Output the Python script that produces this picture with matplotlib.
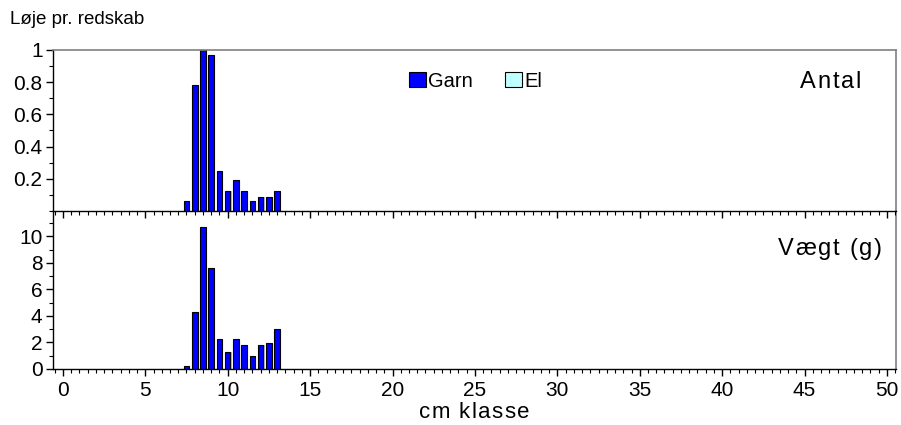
import matplotlib
matplotlib.use("Agg")
import matplotlib.pyplot as plt
from matplotlib.ticker import MultipleLocator, FixedLocator
from matplotlib.patches import Patch
from matplotlib.font_manager import FontProperties, findfont, get_font
from matplotlib.transforms import offset_copy

plt.rcParams['font.family'] = ['Liberation Sans', 'DejaVu Sans']

# Length classes (cm) and catch per gear
classes = [7.5, 8.0, 8.5, 9.0, 9.5, 10.0, 10.5, 11.0, 11.5, 12.0, 12.5, 13.0]
antal_garn = [0.06, 0.78, 1.00, 0.97, 0.25, 0.125, 0.19, 0.125, 0.06, 0.09, 0.09, 0.125]
vaegt_garn = [0.26, 4.26, 10.69, 7.58, 2.27, 1.28, 2.27, 1.79, 0.97, 1.79, 1.96, 2.98]

title_text = "Løje pr. redskab"
xlabel_text = "cm klasse"
series_names = ["Garn", "El"]
series_colors = ["#0000FF", "#C0FFFF"]
panel_labels = ["Antal", "Vægt (g)"]

fig = plt.figure(figsize=(9.01, 4.25), dpi=100)
W, H = 901, 425


def spaced_text(x, y, s, size, track_px, ha="left"):
    """Draw a string on the figure (pixel coords, baseline at y) with extra
    letter spacing between characters."""
    fp = FontProperties(family="Liberation Sans", size=size)
    font = get_font(findfont(fp))
    font.set_size(size, 72)
    track = track_px * 72.0 / fig.dpi
    advs = [font.load_char(ord(ch)).linearHoriAdvance / 65536.0 for ch in s]
    total = sum(advs) + track * (len(s) - 1)
    pos = {"left": 0.0, "center": -total / 2.0, "right": -total}[ha]
    base = fig.transFigure
    for ch, adv in zip(s, advs):
        if ch != " ":
            tr = offset_copy(base, fig=fig, x=pos, y=0, units="points")
            fig.text(x / W, 1 - y / H, ch, transform=tr, ha="left",
                     va="baseline", fontproperties=fp)
        pos += adv + track


ax1 = fig.add_axes([0.0588, 0.5035, 0.9357, 0.3789])
ax2 = fig.add_axes([0.0588, 0.1318, 0.9357, 0.3717])
ax1.set_zorder(3)
ax1.patch.set_alpha(0)

bar_w = 0.34
for ax, vals in ((ax1, antal_garn), (ax2, vaegt_garn)):
    # light shadow behind bars
    ax.bar([c + 0.07 for c in classes], vals, width=bar_w, color="#b8b8b8",
           edgecolor="none", zorder=1)
    ax.bar(classes, vals, width=bar_w, color=series_colors[0],
           edgecolor="black", linewidth=0.8, zorder=2)
    ax.set_xlim(-0.6, 50.55)
    for s in ("top", "right"):
        ax.spines[s].set_color("#808080")
        ax.spines[s].set_linewidth(1.2)
    for s in ("left", "bottom"):
        ax.spines[s].set_color("black")
        ax.spines[s].set_linewidth(1.0)
    ax.xaxis.set_major_locator(MultipleLocator(5))
    ax.xaxis.set_minor_locator(MultipleLocator(0.5))
    ax.tick_params(axis="both", which="major", direction="out", length=5,
                   width=1, labelsize=15, colors="black")
    ax.tick_params(axis="both", which="minor", direction="out", length=3,
                   width=0.8)
    ax.tick_params(axis="x", which="both", top=False)
    ax.tick_params(axis="y", which="both", right=False, pad=2.5)

ax2.spines["top"].set_visible(False)

ax1.set_ylim(0, 1.0)
ax1.yaxis.set_major_locator(FixedLocator([0.2, 0.4, 0.6, 0.8, 1.0]))
ax1.yaxis.set_minor_locator(MultipleLocator(0.1))
ax1.set_yticklabels(["0.2", "0.4", "0.6", "0.8", "1"])
ax1.tick_params(axis="x", labelbottom=False)

ax2.set_ylim(0, 11.9)
ax2.yaxis.set_major_locator(MultipleLocator(2))
ax2.yaxis.set_minor_locator(MultipleLocator(1))

# Axis title and panel labels
spaced_text(474, 418, xlabel_text, 16, 1.5, ha="center")
spaced_text(861, 88, panel_labels[0], 17, 1.8, ha="right")
spaced_text(882, 255, panel_labels[1], 17, 1.8, ha="right")

handles = [Patch(facecolor=series_colors[i], edgecolor="black", linewidth=0.8,
                 label=series_names[i]) for i in range(2)]
ax1.legend(handles=handles, ncol=2, frameon=False, loc="center left",
           bbox_to_anchor=(0.4125, 0.807), fontsize=14.5, handlelength=0.85,
           handleheight=0.82, handletextpad=0.12, columnspacing=1.6,
           borderpad=0.4, borderaxespad=0.0)

fig.text(10 / W, 1 - 20 / H, title_text, ha="left", va="center",
         fontsize=13.5)

fig.savefig("out.png", dpi=100)
